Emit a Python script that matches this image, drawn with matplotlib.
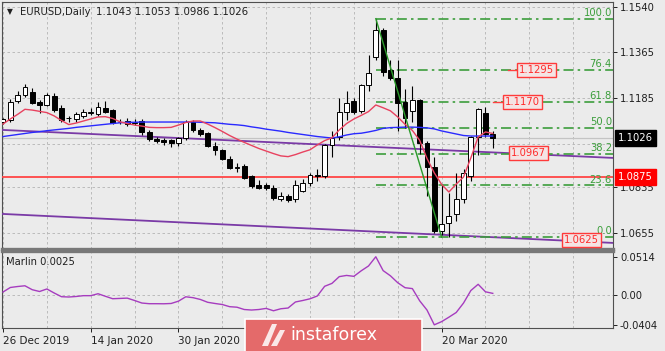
import matplotlib
matplotlib.use('Agg')
import matplotlib.pyplot as plt
import matplotlib.transforms as mtransforms
from matplotlib.patches import Rectangle, Polygon
import numpy as np

plt.rcParams['font.family'] = ['DejaVu Sans']

W, H = 665, 351
BG = '#ebebeb'

# ---- daily EURUSD bars, 26 Dec 2019 .. 31 Mar 2020 ----
opens = [1.1090, 1.1098, 1.1172, 1.1196, 1.1208, 1.1169, 1.1157, 1.1192, 1.1146, 1.1104,
         1.1101, 1.1113, 1.1126, 1.1120, 1.1146, 1.1137, 1.1090, 1.1094, 1.1085, 1.1093,
         1.1050, 1.1022, 1.1018, 1.1018, 1.1007, 1.1026, 1.1090, 1.1058, 1.1046, 1.0995,
         1.0979, 1.0943, 1.0909, 1.0916, 1.0876, 1.0841, 1.0844, 1.0830, 1.0789, 1.0801,
         1.0786, 1.0820, 1.0849, 1.0880, 1.0876, 1.0999, 1.1030, 1.1130, 1.1173, 1.1134,
         1.1236, 1.1346, 1.1453, 1.1295, 1.1264, 1.1169, 1.1134, 1.1176, 1.1007, 1.0912,
         1.0663, 1.0694, 1.0727, 1.0786, 1.0876, 1.1030, 1.1125, 1.1043]
highs = [1.1106, 1.1180, 1.1210, 1.1240, 1.1224, 1.1176, 1.1206, 1.1205, 1.1156, 1.1114,
         1.1128, 1.1142, 1.1146, 1.1168, 1.1172, 1.1142, 1.1100, 1.1106, 1.1100, 1.1100,
         1.1058, 1.1030, 1.1026, 1.1022, 1.1032, 1.1096, 1.1099, 1.1066, 1.1050, 1.1010,
         1.0985, 1.0958, 1.0930, 1.0926, 1.0880, 1.0862, 1.0852, 1.0842, 1.0815, 1.0808,
         1.0862, 1.0868, 1.0890, 1.0904, 1.1005, 1.1053, 1.1185, 1.1212, 1.1185, 1.1240,
         1.1354, 1.1496, 1.1460, 1.1335, 1.1335, 1.1220, 1.1232, 1.1180, 1.1016, 1.0951,
         1.0841, 1.0813, 1.0889, 1.0905, 1.1035, 1.1147, 1.1149, 1.1053]
lows = [1.1084, 1.1092, 1.1166, 1.1190, 1.1160, 1.1125, 1.1152, 1.1128, 1.1090, 1.1092,
        1.1090, 1.1105, 1.1116, 1.1112, 1.1126, 1.1084, 1.1082, 1.1074, 1.1078, 1.1038,
        1.1016, 1.1008, 1.1000, 1.0991, 1.0994, 1.1020, 1.1052, 1.1036, 1.0992, 1.0960,
        1.0940, 1.0904, 1.0892, 1.0868, 1.0830, 1.0826, 1.0822, 1.0784, 1.0780, 1.0777,
        1.0776, 1.0815, 1.0840, 1.0857, 1.0870, 1.0953, 1.1020, 1.1098, 1.1120, 1.1125,
        1.1210, 1.1335, 1.1270, 1.1255, 1.1053, 1.1066, 1.1090, 1.0965, 1.0800, 1.0652,
        1.0647, 1.0638, 1.0700, 1.0770, 1.0860, 1.0960, 1.1030, 1.0986]
closes = [1.1100, 1.1170, 1.1196, 1.1228, 1.1165, 1.1157, 1.1196, 1.1138, 1.1098, 1.1105,
          1.1121, 1.1130, 1.1131, 1.1150, 1.1131, 1.1088, 1.1092, 1.1082, 1.1090, 1.1050,
          1.1022, 1.1016, 1.1013, 1.1007, 1.1026, 1.1090, 1.1058, 1.1043, 1.0996, 1.0979,
          1.0943, 1.0910, 1.0912, 1.0872, 1.0838, 1.0830, 1.0830, 1.0790, 1.0801, 1.0782,
          1.0841, 1.0849, 1.0880, 1.0876, 1.1000, 1.1028, 1.1130, 1.1166, 1.1130, 1.1236,
          1.1283, 1.1453, 1.1287, 1.1264, 1.1166, 1.1106, 1.1176, 1.1007, 1.0912, 1.0663,
          1.0690, 1.0722, 1.0786, 1.0890, 1.1030, 1.1141, 1.1043, 1.1026]

# moving averages as drawn on the chart
ma_red = [1.1082, 1.1102, 1.1120, 1.1140, 1.1137, 1.1132, 1.1127, 1.1114, 1.1096, 1.1080,
          1.1086, 1.1094, 1.1102, 1.1110, 1.1111, 1.1104, 1.1091, 1.1084, 1.1078, 1.1074,
          1.1069, 1.1068, 1.1068, 1.1069, 1.1078, 1.1088, 1.1094, 1.1094, 1.1082, 1.1068,
          1.1053, 1.1037, 1.1023, 1.1010, 1.0998, 1.0986, 1.0976, 1.0966, 1.0957, 1.0954,
          1.0962, 1.0972, 1.0981, 1.1000, 1.1017, 1.1028, 1.1059, 1.1084, 1.1102, 1.1116,
          1.1131, 1.1157, 1.1146, 1.1134, 1.1110, 1.1081, 1.1057, 1.1018, 1.0947, 1.0890,
          1.0845, 1.0815, 1.0846, 1.0874, 1.0949, 1.1031, 1.1051, 1.1045]
ma_blue = [1.1033, 1.1037, 1.1041, 1.1045, 1.1049, 1.1052, 1.1056, 1.1059, 1.1062, 1.1065,
           1.1069, 1.1072, 1.1075, 1.1078, 1.1081, 1.1084, 1.1087, 1.1089, 1.1089, 1.1090,
           1.1090, 1.1090, 1.1090, 1.1090, 1.1090, 1.1090, 1.1090, 1.1089, 1.1088, 1.1087,
           1.1084, 1.1081, 1.1079, 1.1076, 1.1071, 1.1067, 1.1062, 1.1058, 1.1054, 1.1049,
           1.1045, 1.1041, 1.1037, 1.1033, 1.1030, 1.1027, 1.1032, 1.1039, 1.1044, 1.1046,
           1.1051, 1.1057, 1.1065, 1.1068, 1.1069, 1.1070, 1.1070, 1.1069, 1.1067, 1.1063,
           1.1055, 1.1049, 1.1043, 1.1037, 1.1035, 1.1035, 1.1035, 1.1035]

# Marlin oscillator
marlin = [0.0040, 0.0101, 0.0114, 0.0124, 0.0071, 0.0047, 0.0081, 0.0027, -0.0023, -0.0027,
          -0.0020, -0.0009, -0.0009, 0.0017, -0.0017, -0.0050, -0.0046, -0.0042, -0.0074, -0.0108,
          -0.0117, -0.0117, -0.0118, -0.0114, -0.0083, -0.0024, -0.0036, -0.0060, -0.0098, -0.0114,
          -0.0128, -0.0157, -0.0164, -0.0195, -0.0202, -0.0195, -0.0180, -0.0212, -0.0185, -0.0175,
          -0.0094, -0.0074, -0.0051, -0.0013, 0.0117, 0.0156, 0.0247, 0.0263, 0.0251, 0.0325,
          0.0390, 0.0514, 0.0328, 0.0258, 0.0165, 0.0098, 0.0086, -0.0078, -0.0202, -0.0401,
          -0.0358, -0.0298, -0.0235, -0.0108, 0.0060, 0.0144, 0.0043, 0.0022]

# chart objects
fib_names = ['0.0', '23.6', '38.2', '50.0', '61.8', '76.4', '100.0']
fib_prices = [1.0638, 1.0841, 1.0966, 1.1067, 1.1168, 1.1294, 1.1496]
fib_start_bar = 51
fib_end_bar = 60
trend_upper = [1.1059, 1.0949]
trend_lower = [1.0729, 1.0615]
support_level = 1.0875
last_price = 1.1026
price_tags = [1.1295, 1.1170, 1.0967, 1.0625]

price_ticks = [1.1540, 1.1365, 1.1185, 1.0835, 1.0655]
grid_prices = [1.1540, 1.1365, 1.1185, 1.1005, 1.0835, 1.0655]
# labels at bars 36 and 48 sit under the watermark in the original, so only ticks are kept there
date_bars = [0, 12, 24, 36, 48, 60]
date_labels = ['26 Dec 2019', '14 Jan 2020', '30 Jan 2020', '', '', '20 Mar 2020']

# ---- layout helpers (pixel based) ----
fig = plt.figure(figsize=(W / 100, H / 100), dpi=100, facecolor=BG)


def px_axes(x0, y0, x1, y1):
    return fig.add_axes([x0 / W, 1 - y1 / H, (x1 - x0) / W, (y1 - y0) / H])


STEP = 7.31
X0 = 3.0
xlim = ((2 - X0) / STEP, (613 - X0) / STEP)
FS = 7.2
grid_kw = dict(color='#b4b4b4', lw=0.6, ls=(0, (3, 3)), zorder=1)

ax = px_axes(2, 2, 613, 249)
axm = px_axes(2, 251, 613, 328)
for a in (ax, axm):
    a.set_facecolor(BG)
    a.set_xlim(*xlim)
    for s in a.spines.values():
        s.set_color('#505050')
        s.set_linewidth(0.8)
    for b in range(0, 90, 6):
        a.axvline(b, **grid_kw)
ax.spines['bottom'].set_linewidth(2.4)
ax.spines['bottom'].set_color('#787878')
axm.spines['top'].set_linewidth(2.4)
axm.spines['top'].set_color('#787878')

ax.set_ylim(1.1540 - 241.5 / 2545, 1.1540 + 5.5 / 2545)
for p in grid_prices:
    ax.axhline(p, **grid_kw)

# ---- candles ----
idx = np.arange(len(opens))
o = np.array(opens); c = np.array(closes)
hi = np.array(highs); lo = np.array(lows)
up = c >= o
ax.vlines(idx, lo, hi, color='black', lw=0.8, zorder=4)
bottom = np.minimum(o, c)
height = np.maximum(np.abs(c - o), 0.00005)
ax.bar(idx[up], height[up], bottom=bottom[up], width=0.66, color='white',
       edgecolor='black', lw=0.7, zorder=5)
ax.bar(idx[~up], height[~up], bottom=bottom[~up], width=0.66, color='black',
       edgecolor='black', lw=0.7, zorder=5)

# ---- lines ----
ax.axhline(last_price, color='#c4c4c4', lw=0.9, zorder=2)
ax.axhline(support_level, color='#ff4545', lw=1.3, zorder=3)
ax.plot([xlim[0], xlim[1]], trend_upper, color='#7a3aa6', lw=1.3, zorder=3)
ax.plot([xlim[0], xlim[1]], trend_lower, color='#7a3aa6', lw=1.3, zorder=3)
ax.plot(idx, ma_blue, color='#2a2aff', lw=1.0, zorder=6)
ax.plot(idx, ma_red, color='#e8425f', lw=1.0, zorder=6)

# fibonacci
for name, p in zip(fib_names, fib_prices):
    ax.plot([fib_start_bar, xlim[1]], [p, p], color='#3c9e3c', lw=1.2,
            ls=(0, (6, 2.5, 1.5, 2.5)), zorder=3)
    ax.text(xlim[1] - 0.15, p + 0.0003, name, color='#3c9e3c', fontsize=FS,
            ha='right', va='bottom', zorder=7)
ax.plot([fib_start_bar, fib_end_bar], [fib_prices[-1], fib_prices[0]],
        color='#2a9a2a', lw=1.0, zorder=6)

# red price tags
tag_bars = [70.6, 68.7, 69.5, 76.7]
tag_lines = [(69.1, 70.3), (67.0, 68.4), None, None]
for p, b, ln in zip(price_tags, tag_bars, tag_lines):
    if ln:
        ax.plot(ln, [p, p], color='#ff4040', lw=1.0, zorder=7)
    ax.text(b, p, '%.4f' % p, color='#ff2b2b', fontsize=FS, ha='left', va='center',
            zorder=8, bbox=dict(boxstyle='square,pad=0.2', fc='#f4e4e4', ec='#ff3a3a', lw=1.0))

# right axis
ax.yaxis.tick_right()
ax.set_yticks(price_ticks)
ax.set_yticklabels(['%.4f' % p for p in price_ticks])
ax.tick_params(axis='y', length=3, width=0.7, pad=2, labelsize=FS, colors='#202020')
ax.set_xticks([])
tr = mtransforms.blended_transform_factory(ax.transAxes, ax.transData)
ax.text(1.0085, last_price, '%.4f' % last_price, transform=tr, color='white', fontsize=FS,
        ha='left', va='center', zorder=9, clip_on=False,
        bbox=dict(boxstyle='square,pad=0.3', fc='black', ec='black'))
ax.text(1.0085, support_level, '%.4f' % support_level, transform=tr, color='white', fontsize=FS,
        ha='left', va='center', zorder=9, clip_on=False,
        bbox=dict(boxstyle='square,pad=0.3', fc='#ff0000', ec='#ff0000'))

# ---- indicator panel ----
axm.set_ylim((295 - 328) / 744, (295 - 251) / 744)
axm.axhline(0, **grid_kw)
axm.plot(idx, marlin, color='#a63cbf', lw=1.0, zorder=4)
axm.yaxis.tick_right()
axm.set_yticks([0.0514, 0.0, -0.0404])
axm.set_yticklabels(['0.0514', '0.00', '-0.0404'])
axm.tick_params(axis='y', length=3, width=0.7, pad=2, labelsize=FS, colors='#202020')
axm.set_xticks(date_bars)
axm.set_xticklabels(date_labels, ha='left')
axm.tick_params(axis='x', length=3, width=0.7, pad=3, labelsize=FS + 0.3, colors='#202020')
axm.text(0.007, 0.86, 'Marlin 0.0025', transform=axm.transAxes, fontsize=FS, color='#202020',
         va='center', ha='left')

# ---- header ----
fig.text(7 / W, 1 - 12 / H, '\u25bc', fontsize=5.5, color='#202020', va='center')
fig.text(20 / W, 1 - 12 / H, 'EURUSD,Daily', fontsize=FS, color='#202020', va='center')
fig.text(96 / W, 1 - 12 / H, '1.1043 1.1053 1.0986 1.1026', fontsize=FS + 0.2,
         color='#202020', va='center')

# ---- watermark ----
fig.patches.append(Rectangle((245 / W, -0.01), (422 - 245) / W, 32 / H + 0.01,
                             transform=fig.transFigure, fc='#e46a6a', ec='white',
                             lw=1.2, zorder=20))
fig.patches.append(Polygon([(262 / W, 1 - 346 / H), (272 / W, 1 - 324 / H), (277 / W, 1 - 324 / H),
                            (268 / W, 1 - 346 / H)], closed=True, transform=fig.transFigure,
                           fc='white', ec='none', alpha=0.85, zorder=21))
fig.patches.append(Polygon([(271 / W, 1 - 346 / H), (280 / W, 1 - 330 / H), (285 / W, 1 - 330 / H),
                            (277 / W, 1 - 346 / H)], closed=True, transform=fig.transFigure,
                           fc='white', ec='none', alpha=0.85, zorder=21))
fig.text(290 / W, 1 - 335 / H, 'instaforex', fontsize=12.5, color='white', va='center',
         ha='left', zorder=22)

fig.savefig('out.png', dpi=100, facecolor=BG)
